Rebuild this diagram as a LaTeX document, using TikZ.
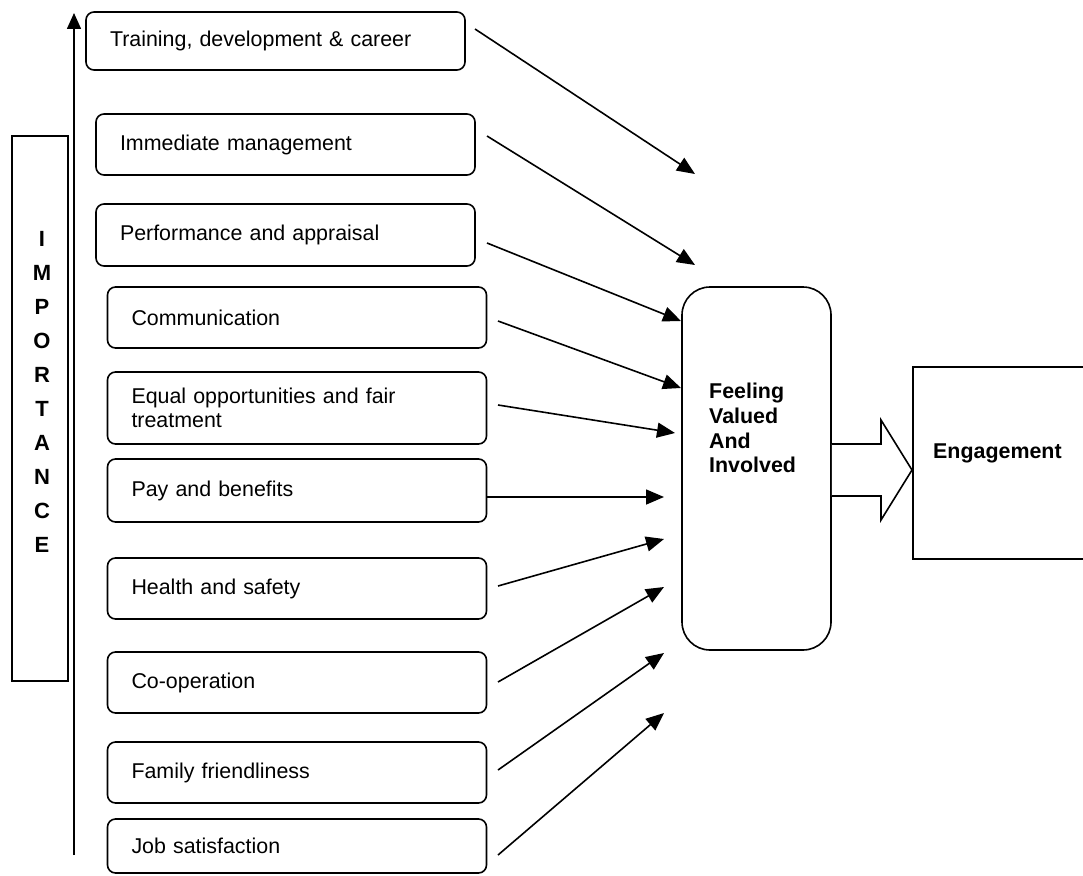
\documentclass[tikz,border=0pt]{standalone}
\usepackage{fontspec}
\setmainfont{Liberation Sans}
\usetikzlibrary{arrows.meta,calc}
\tikzset{
  factor/.style={draw, line width=1.6pt, rounded corners=8pt, text width=331pt,
    inner xsep=24pt, inner ysep=0pt, align=left, minimum height=#1pt,
    font=\fontsize{21.4pt}{23.5pt}\selectfont},
  conn/.style={line width=1.6pt, -{Triangle[length=18pt,width=15pt]}},
  boldtxt/.style={font=\fontsize{21.4pt}{24.7pt}\selectfont\bfseries, inner sep=0pt},
}
\begin{document}
\begin{tikzpicture}[x=1pt,y=-1pt]
\useasboundingbox (0,0) rectangle (1083,875);
\clip (0,0) rectangle (1083,875);

% importance column
\node[draw, line width=1.6pt, minimum width=56pt, minimum height=545pt, inner sep=0pt] (imp) at (40,408.5) {};
\node[boldtxt, align=center, font=\fontsize{22pt}{34pt}\selectfont\bfseries] (impt) at (42,392) {I\\M\\P\\O\\R\\T\\A\\N\\C\\E};
\coordinate (ib) at (74,855);
\coordinate (it) at (74,13);
\draw[line width=1.6pt, -{Triangle[length=16pt,width=14pt]}] (ib) -- (it);

% factor boxes
\node[factor=58] (b1) at (275.5,41) {Training, development \& career};
\node[factor=61] (b2) at (285.5,144.5) {Immediate management};
\node[factor=62] (b3) at (285.5,235) {Performance and appraisal};
\node[factor=61] (b4) at (297,317.5) {Communication};
\node[factor=72] (b5) at (297,408) {Equal opportunities and fair\\treatment};
\node[factor=63] (b6) at (297,490.5) {Pay and benefits};
\node[factor=61] (b7) at (297,588.5) {Health and safety};
\node[factor=61] (b8) at (297,682.5) {Co-operation};
\node[factor=61] (b9) at (297,772.5) {Family friendliness};
\node[factor=54] (b10) at (297,846) {Job satisfaction};

% feeling valued box
\node[draw, line width=1.6pt, rounded corners=28pt, minimum width=149pt, minimum height=363pt, inner sep=0pt] (fv) at (756.5,468.5) {};
\node[boldtxt, align=left, anchor=west] (fvt) at (709,428) {Feeling\\Valued\\And\\Involved};

% engagement box
\node[draw, line width=1.6pt, minimum width=260pt, minimum height=192pt, inner sep=0pt, anchor=north west] (eng) at (912,366) {};
\node[boldtxt, anchor=west] (engt) at (933,453) {Engagement};

% block arrow
\draw[line width=1.6pt, fill=white, line join=miter]
  (fv.east |- 0,444) -- (881,444) -- (881,420) -- (eng.west |- 0,470)
  -- (881,520) -- (881,496) -- (fv.east |- 0,496);

% connector end points
\coordinate (s1) at (475,29);   \coordinate (e1) at (695,174);
\coordinate (s2) at (487,136);  \coordinate (e2) at (695,265);
\coordinate (s3) at (487,243);  \coordinate (e3) at (681,321);
\coordinate (s4) at (498,321);  \coordinate (e4) at (681,388);
\coordinate (s5) at (498,405);  \coordinate (e5) at (675,433);
\coordinate (s6) at (b6.east |- 0,497);  \coordinate (e6) at (664,497);
\coordinate (s7) at (498,586);  \coordinate (e7) at (664,539);
\coordinate (s8) at (498,682);  \coordinate (e8) at (664,587);
\coordinate (s9) at (498,770);  \coordinate (e9) at (664,653);
\coordinate (s10) at (498,855); \coordinate (e10) at (664,713);

\foreach \i in {1,...,10} {\draw[conn] (s\i) -- (e\i);}
\end{tikzpicture}
\end{document}
